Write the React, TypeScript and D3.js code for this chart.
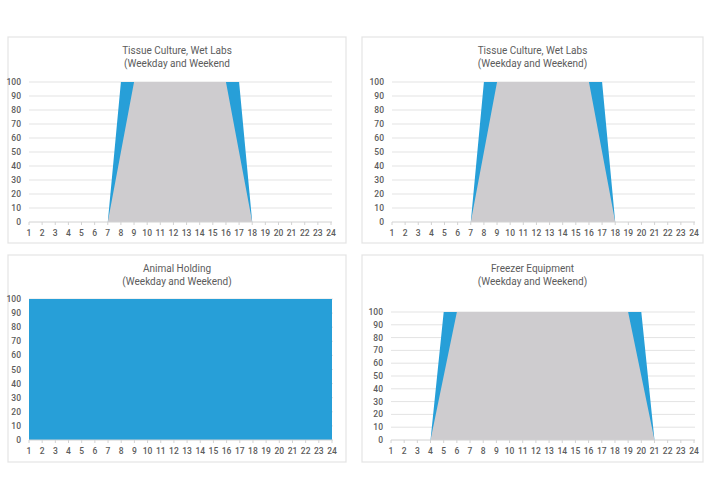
import * as d3 from "d3";

// hours of the day (x axis)
const hours = [1, 2, 3, 4, 5, 6, 7, 8, 9, 10, 11, 12, 13, 14, 15, 16, 17, 18, 19, 20, 21, 22, 23, 24];
const yTicks = [0, 10, 20, 30, 40, 50, 60, 70, 80, 90, 100];

// load profiles, % per hour
const tissueBlue = [0, 0, 0, 0, 0, 0, 0, 100, 100, 100, 100, 100, 100, 100, 100, 100, 100, 0, 0, 0, 0, 0, 0, 0];
const tissueGray = [0, 0, 0, 0, 0, 0, 0, 50, 100, 100, 100, 100, 100, 100, 100, 100, 50, 0, 0, 0, 0, 0, 0, 0];
const animalBlue = [100, 100, 100, 100, 100, 100, 100, 100, 100, 100, 100, 100, 100, 100, 100, 100, 100, 100, 100, 100, 100, 100, 100, 100];
const animalGray = [0, 0, 0, 0, 0, 0, 0, 0, 0, 0, 0, 0, 0, 0, 0, 0, 0, 0, 0, 0, 0, 0, 0, 0];
const freezerBlue = [0, 0, 0, 0, 100, 100, 100, 100, 100, 100, 100, 100, 100, 100, 100, 100, 100, 100, 100, 100, 0, 0, 0, 0];
const freezerGray = [0, 0, 0, 0, 50, 100, 100, 100, 100, 100, 100, 100, 100, 100, 100, 100, 100, 100, 100, 50, 0, 0, 0, 0];

const titles = [
  ["Tissue Culture, Wet Labs", "(Weekday and Weekend"],
  ["Tissue Culture, Wet Labs", "(Weekday and Weekend)"],
  ["Animal Holding", "(Weekday and Weekend)"],
  ["Freezer Equipment", "(Weekday and Weekend)"],
];

const BLUE = "#279fd8";
const GRAY = "#cecccf";
const TEXT = "#5c5c5c";
const FONT = "Roboto, 'DejaVu Sans', sans-serif";

interface PanelProps {
  box: [number, number, number, number];
  plot: [number, number, number, number];
  title: string[];
  blue: number[];
  gray: number[];
}

function Panel({ box, plot, title, blue, gray }: PanelProps) {
  const [bx0, by0, bx1, by1] = box;
  const [px0, py0, px1, py1] = plot;
  const x = d3.scaleLinear().domain([1, 24]).range([px0, px1]);
  const y = d3.scaleLinear().domain([0, 100]).range([py1, py0]);

  const area = d3
    .area<number>()
    .x((_, i) => x(hours[i]))
    .y0(y(0))
    .y1((d) => y(d));

  const cx = (bx0 + bx1) / 2;

  return (
    <g>
      <rect x={bx0} y={by0} width={bx1 - bx0} height={by1 - by0} fill="#fff" stroke="#e4e4e4" strokeWidth={1.2} />
      {title.map((t, i) => (
        <text key={i} x={cx} y={by0 + 17 + i * 12.5} textAnchor="middle" fontSize={10} fill={TEXT} fontFamily={FONT}>
          {t}
        </text>
      ))}
      {yTicks.map((t) => (
        <g key={t}>
          {t > 0 && <line x1={px0} x2={px1 + 1} y1={y(t)} y2={y(t)} stroke="#e3e3e3" strokeWidth={1} />}
          <text x={px0 - 8} y={y(t) + 3} textAnchor="end" fontSize={8.5} fontWeight={500} fill={TEXT} fontFamily={FONT}>
            {t}
          </text>
        </g>
      ))}
      <path d={area(blue) ?? ""} fill={BLUE} />
      <path d={area(gray) ?? ""} fill={GRAY} />
      <line x1={px0} x2={px1 + 1} y1={y(0)} y2={y(0)} stroke="#d2d2d2" strokeWidth={1} />
      {hours.map((h) => (
        <g key={h}>
          <line x1={x(h)} x2={x(h)} y1={y(0)} y2={y(0) + 3} stroke="#d2d2d2" strokeWidth={1} />
          <text x={x(h)} y={y(0) + 14} textAnchor="middle" fontSize={8.5} fontWeight={500} fill={TEXT} fontFamily={FONT}>
            {h}
          </text>
        </g>
      ))}
    </g>
  );
}

export default function App() {
  return (
    <svg width={710} height={500} style={{ position: "absolute", left: 0, top: 0, background: "#fff" }}>
      <rect width={710} height={500} fill="#fff" />
      <Panel box={[8, 37, 346, 243]} plot={[29, 82, 331, 222]} title={titles[0]} blue={tissueBlue} gray={tissueGray} />
      <Panel box={[362, 37, 703, 243]} plot={[392, 82, 694, 222]} title={titles[1]} blue={tissueBlue} gray={tissueGray} />
      <Panel box={[8, 255, 346, 462]} plot={[29, 299, 332, 440]} title={titles[2]} blue={animalBlue} gray={animalGray} />
      <Panel box={[362, 255, 703, 462]} plot={[391, 312, 694, 440]} title={titles[3]} blue={freezerBlue} gray={freezerGray} />
    </svg>
  );
}
